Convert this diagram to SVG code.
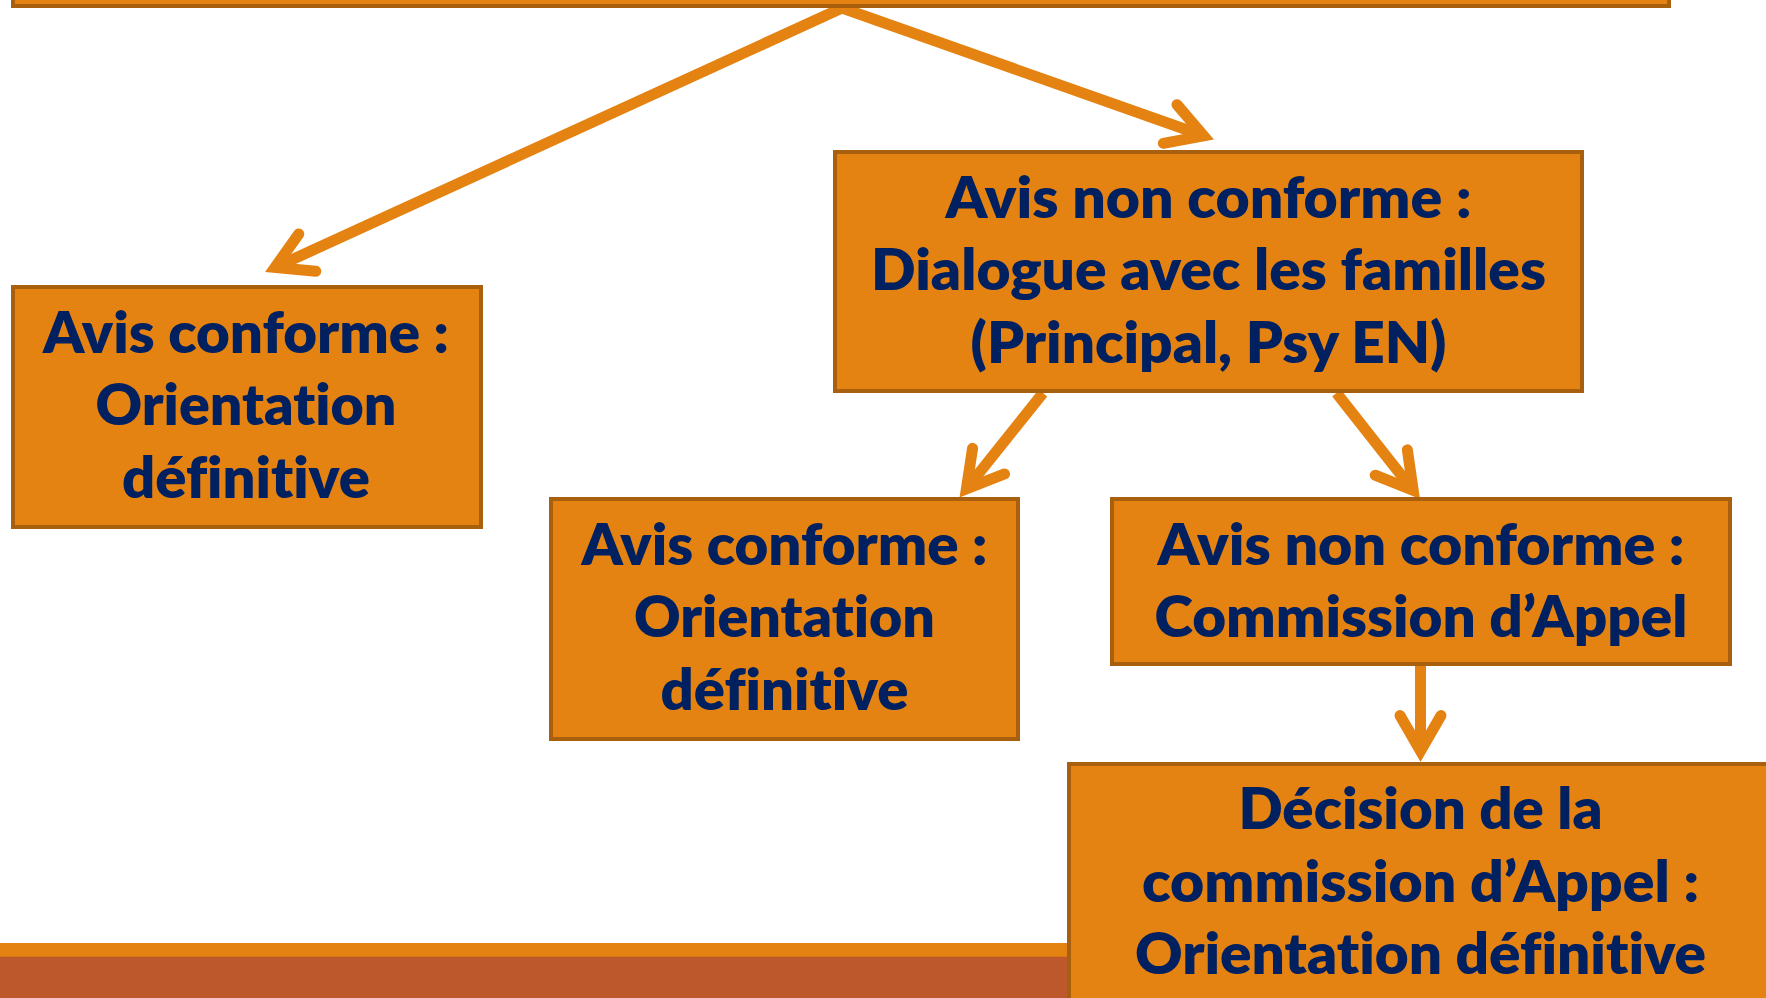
<svg xmlns="http://www.w3.org/2000/svg" width="1766" height="998" viewBox="0 0 1766 998">
  <style>
    .box { fill: #E48312; stroke: #A9600E; stroke-width: 4; }
    .lbl { font-family: Lato, "Open Sans", "Liberation Sans", sans-serif; font-weight: 800; font-size: 57px; fill: #002060; text-anchor: middle; font-variant-ligatures: none; font-feature-settings: "liga" 0, "clig" 0, "dlig" 0; }
    .conn { stroke: #E48312; stroke-width: 11; fill: none; stroke-linecap: butt; marker-end: url(#ah); }
  </style>
  <defs>
    <marker id="ah" markerUnits="userSpaceOnUse" orient="auto" overflow="visible" markerWidth="1" markerHeight="1" refX="0" refY="0">
      <path d="M -35.5,-20.5 L 0,0 L -35.5,20.5" fill="none" stroke="#E48312" stroke-width="11" stroke-linecap="round" stroke-linejoin="miter"/>
    </marker>
  </defs>
  <rect x="0" y="0" width="1766" height="998" fill="#FFFFFF"/>

  <!-- footer bands -->
  <g id="footer">
    <rect x="0" y="943" width="1766" height="14" fill="#E48312"/>
    <rect x="0" y="956.7" width="1766" height="42" fill="#BD582C"/>
  </g>

  <g id="connectors">
    <line class="conn" x1="842" y1="8" x2="275" y2="267.4"/>
    <line class="conn" x1="842" y1="8" x2="1203.6" y2="135.8"/>
    <line class="conn" x1="1043" y1="393" x2="966.4" y2="488.9"/>
    <line class="conn" x1="1336.5" y1="393" x2="1413.2" y2="490.4"/>
    <line class="conn" x1="1420.5" y1="666" x2="1420.5" y2="751"/>
  </g>

  <g id="node-top">
    <rect class="box" x="13" y="-50" width="1656" height="56"/>
  </g>

  <g id="node-conforme-1">
    <rect class="box" x="13" y="287" width="468" height="240"/>
    <text class="lbl" x="246" y="352.5" textLength="406" lengthAdjust="spacingAndGlyphs">Avis conforme :</text>
    <text class="lbl" x="246" y="425" textLength="301" lengthAdjust="spacingAndGlyphs">Orientation</text>
    <text class="lbl" x="246" y="497.5" textLength="248" lengthAdjust="spacingAndGlyphs">définitive</text>
  </g>

  <g id="node-dialogue">
    <rect class="box" x="835" y="152" width="747" height="239"/>
    <text class="lbl" x="1208.5" y="217.5" textLength="526" lengthAdjust="spacingAndGlyphs">Avis non conforme :</text>
    <text class="lbl" x="1208.5" y="290" textLength="675" lengthAdjust="spacingAndGlyphs">Dialogue avec les familles</text>
    <text class="lbl" x="1208.5" y="362.5" textLength="476" lengthAdjust="spacingAndGlyphs">(Principal, Psy EN)</text>
  </g>

  <g id="node-conforme-2">
    <rect class="box" x="551" y="499" width="467" height="240"/>
    <text class="lbl" x="784.5" y="564.5" textLength="406" lengthAdjust="spacingAndGlyphs">Avis conforme :</text>
    <text class="lbl" x="784.5" y="637" textLength="301" lengthAdjust="spacingAndGlyphs">Orientation</text>
    <text class="lbl" x="784.5" y="709.5" textLength="248" lengthAdjust="spacingAndGlyphs">définitive</text>
  </g>

  <g id="node-commission">
    <rect class="box" x="1112" y="499" width="618" height="165"/>
    <text class="lbl" x="1421" y="564.5" textLength="527" lengthAdjust="spacingAndGlyphs">Avis non conforme :</text>
    <text class="lbl" x="1421" y="637" textLength="533" lengthAdjust="spacingAndGlyphs">Commission d’Appel</text>
  </g>

  <g id="node-decision">
    <rect class="box" x="1069" y="764" width="705" height="260"/>
    <text class="lbl" x="1420.5" y="829" textLength="364" lengthAdjust="spacingAndGlyphs">Décision de la</text>
    <text class="lbl" x="1420.5" y="901.5" textLength="557" lengthAdjust="spacingAndGlyphs">commission d’Appel :</text>
    <text class="lbl" x="1420.5" y="974" textLength="571" lengthAdjust="spacingAndGlyphs">Orientation définitive</text>
  </g>
</svg>
